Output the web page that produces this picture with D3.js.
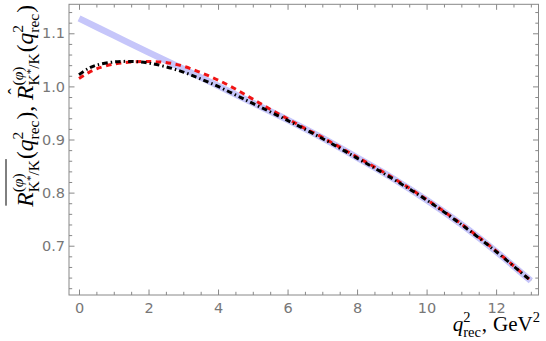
<!DOCTYPE html>
<html>
<head>
<meta charset="utf-8">
<script src="https://cdn.jsdelivr.net/npm/d3@7"></script>
<style>
body { margin: 0; background: #fff; }
text { fill: #000; }
.tick text { fill: #777; font-family: "DejaVu Sans", sans-serif; font-size: 14.5px; }
.math text { font-family: "Liberation Serif", "Times New Roman", serif; }
</style>
</head>
<body>
<svg id="chart" width="546" height="341"></svg>
<script>
// values
var blueQ = [0,1,2,3,4,5,6,7,8,9,10,11,12,13]
var blueV = [1.128,1.096,1.064,1.033,1.001,0.969,0.937,0.903,0.866,0.828,0.786,0.740,0.689,0.634]
var redQ = [0,0.25,0.5,1,1.5,2,2.5,3,3.5,4,4.5,5,5.5,6,6.5,7,8,9,10,11,12,13]
var redV = [1.015,1.025,1.033,1.042,1.046,1.047,1.045,1.038,1.026,1.012,0.995,0.976,0.957,0.939,0.921,0.904,0.867,0.829,0.787,0.741,0.690,0.634]
var blackQ = [0,0.25,0.5,1,1.5,2,2.5,3,3.5,4,4.5,5,6,7,8,9,10,11,12,13]
var blackV = [1.022,1.033,1.040,1.046,1.047,1.044,1.037,1.027,1.014,1.000,0.984,0.968,0.936,0.902,0.865,0.827,0.786,0.740,0.689,0.634]
var xTicks = [0,2,4,6,8,10,12]
var yTicks = [0.7,0.8,0.9,1.0,1.1]

var svg = d3.select('#chart')
var pl = 69, pr = 538.5, pt = 4.3, pb = 295

var x = d3.scaleLinear().domain([-0.288,13.22]).range([pl,pr])
var y = d3.scaleLinear().domain([0.6072,1.1546]).range([pb,pt])

var xMinor = d3.range(0,13.01,0.5).filter(function(d){ return d%2 !== 0 })
var yMinor = d3.range(0.62,1.141,0.02).filter(function(d){
	return Math.abs(Math.round(d*10)-d*10) > 0.01
})

function axes(axisFn, scale, ticks, size, pad, fmt, tx, ty) {
	var a = axisFn(scale).tickValues(ticks).tickSizeInner(-size).tickSizeOuter(0)
	if (fmt) a.tickPadding(pad).tickFormat(fmt)
	else a.tickFormat('')
	var g = svg.append('g').attr('transform','translate('+tx+','+ty+')').call(a)
	g.select('.domain').remove()
	g.selectAll('line').attr('stroke','#888').attr('stroke-width',1)
	return g
}
axes(d3.axisBottom, x, xTicks, 5.5, 8, d3.format('d'), 0, pb)
axes(d3.axisBottom, x, xMinor, 3.2, 0, null, 0, pb)
axes(d3.axisTop, x, xTicks, 5.5, 0, null, 0, pt)
axes(d3.axisTop, x, xMinor, 3.2, 0, null, 0, pt)
axes(d3.axisLeft, y, yTicks, 5.5, 4, d3.format('.1f'), pl, 0)
axes(d3.axisLeft, y, yMinor, 3.2, 0, null, pl, 0)
axes(d3.axisRight, y, yTicks, 5.5, 0, null, pr, 0)
axes(d3.axisRight, y, yMinor, 3.2, 0, null, pr, 0)

svg.append('rect')
	.attr('x',pl).attr('y',pt)
	.attr('width',pr-pl).attr('height',pb-pt)
	.attr('fill','none').attr('stroke','#888').attr('stroke-width',1)

var line = d3.line()
	.x(function(d){ return x(d[0]) })
	.y(function(d){ return y(d[1]) })
	.curve(d3.curveCatmullRom)

function pairs(qs, vs) { return qs.map(function(q,i){ return [q, vs[i]] }) }

svg.append('path')
	.datum(pairs(blueQ,blueV))
	.attr('d',line)
	.attr('fill','none')
	.attr('stroke','rgb(198,198,250)')
	.attr('stroke-width',6.5)
svg.append('path')
	.datum(pairs(redQ,redV))
	.attr('d',line)
	.attr('fill','none')
	.attr('stroke','#f01414')
	.attr('stroke-width',3)
	.attr('stroke-dasharray','5.5,4.5')
svg.append('path')
	.datum(pairs(blackQ,blackV))
	.attr('d',line)
	.attr('fill','none')
	.attr('stroke','#000')
	.attr('stroke-width',3)
	.attr('stroke-dasharray','5.5,3,1.5,3')

// math labels, pieces placed one after another
function mathLabel(g, pieces, S, s) {
	var pos = 0, marks = {}
	pieces.forEach(function(p){
		if (p.mark) { marks[p.mark] = pos; return }
		if (p.t !== undefined) {
			var t = g.append('text').attr('x',pos).attr('y',0)
				.attr('font-size',S)
				.attr('font-style',p.it ? 'italic' : 'normal')
				.html(p.t)
			var w = t.node().getComputedTextLength()
			if (p.hat) {
				g.append('text').attr('x',pos+w*0.6).attr('y',-S*0.5)
					.attr('font-size',S*0.8).attr('text-anchor','middle').text('\u02C6')
			}
			pos += w + (p.gap || 0)
		} else {
			var w1 = 0, w2 = 0
			if (p.sup) {
				var a = g.append('text').attr('x',pos).attr('y',-S*0.42)
					.attr('font-size',s).html(p.sup)
				w1 = a.node().getComputedTextLength()
			}
			if (p.sub) {
				var b = g.append('text').attr('x',pos).attr('y',S*0.27)
					.attr('font-size',s).html(p.sub)
				w2 = b.node().getComputedTextLength()
			}
			pos += Math.max(w1,w2) + 1
		}
	})
	marks.end = pos
	return marks
}

var phi = '(<tspan font-style="italic">\u03C6</tspan>)'
var kk = 'K<tspan dy="-5" font-size="11">*</tspan><tspan dy="5">/K</tspan>'
var rec = 'rec'

var yl = svg.append('g').attr('class','math')
var m = mathLabel(yl, [
	{mark:'a'},
	{t:'R', it:true},
	{sup:phi, sub:kk},
	{mark:'b'},
	{t:'('},
	{t:'q', it:true},
	{sup:'2', sub:rec},
	{t:'),', gap:6},
	{t:'R', it:true, hat:true},
	{sup:phi, sub:kk},
	{t:'('},
	{t:'q', it:true},
	{sup:'2', sub:rec},
	{t:')'}
], 23.5, 15.5)
yl.attr('transform','translate(33,'+(5+m.end)+') rotate(-90)')
yl.append('line')
	.attr('x1',m.a+1).attr('x2',m.b)
	.attr('y1',-27).attr('y2',-27)
	.attr('stroke','#000').attr('stroke-width',1)

var xl = svg.append('g').attr('class','math')
var mx = mathLabel(xl, [
	{t:'q', it:true},
	{sup:'2', sub:rec},
	{t:',', gap:6},
	{t:'GeV'},
	{sup:'2'}
], 21, 14.5)
xl.attr('transform','translate('+(541-mx.end)+',331)')
</script>
</body>
</html>
